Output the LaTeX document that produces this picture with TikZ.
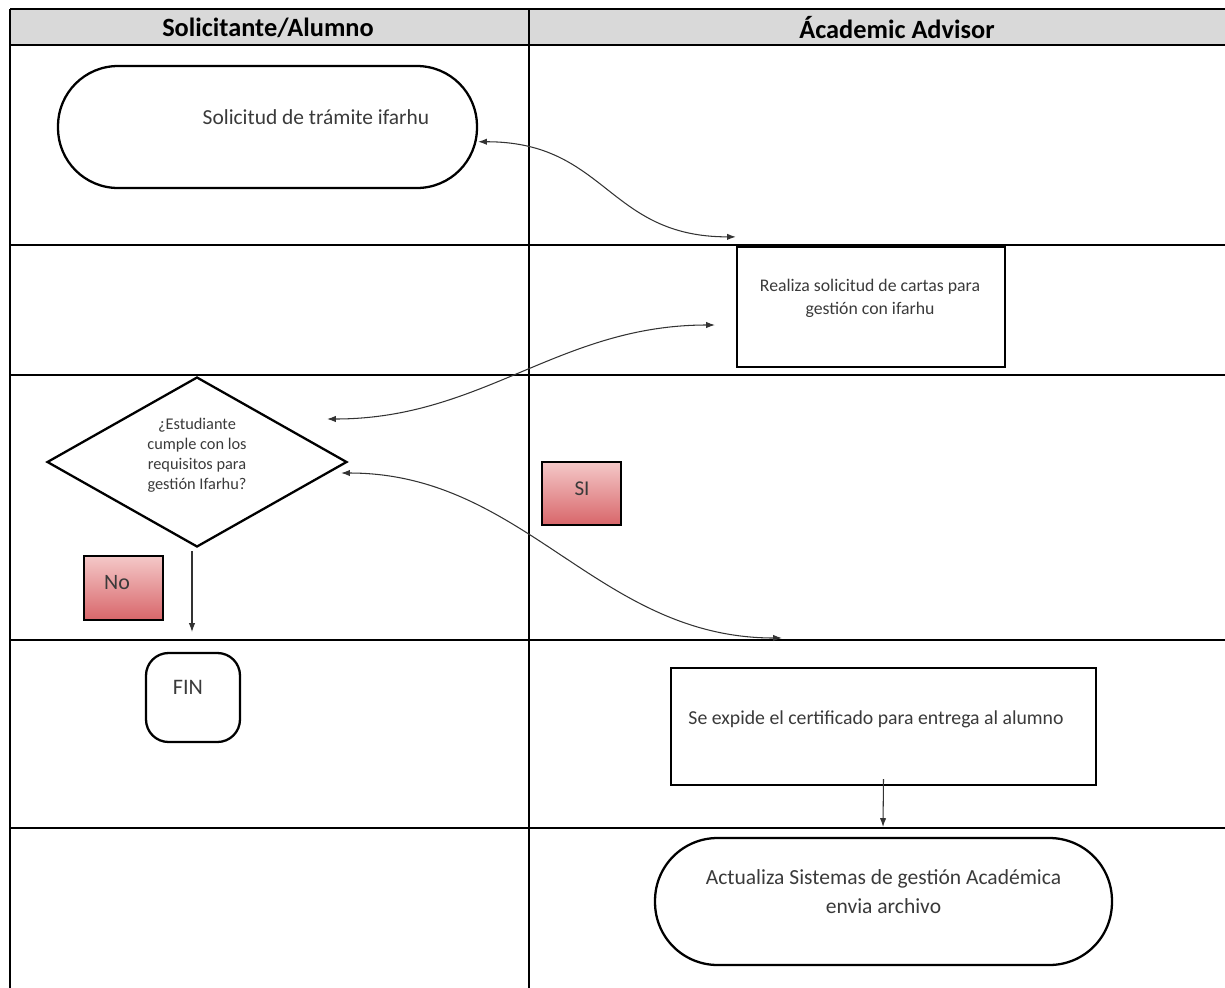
\documentclass[tikz,border=0pt]{standalone}
\usepackage{fontspec}
\setmainfont{Carlito}
\usetikzlibrary{shapes.geometric,arrows.meta}
\definecolor{griscab}{HTML}{D9D9D9}
\definecolor{rojoclaro}{HTML}{F4C8C8}
\definecolor{rojooscuro}{HTML}{D8666A}
\definecolor{tinta}{HTML}{3A3A3A}
\tikzset{
  linea/.style={line width=1.1pt},
  titulo/.style={font=\fontsize{15}{17}\selectfont\bfseries},
  caja/.style={draw, line width=1.3pt, inner sep=0pt},
  roja/.style={draw, line width=1pt, inner sep=0pt, top color=rojoclaro, bottom color=rojooscuro},
  texto/.style={text=tinta, align=center, inner sep=0pt},
  conector/.style={draw=black!80, line width=0.6pt},
  >={Latex[length=5pt,width=3.6pt]}
}
\begin{document}
\begin{tikzpicture}[x=0.02cm,y=-0.02cm]
\useasboundingbox (0,0) rectangle (1225,988);
% tabla de carriles
\fill[griscab] (10,9) rectangle (1225,45);
\foreach \y in {9,45,245,375,640,828}
  \draw[linea] (10,\y) -- (1225,\y);
\foreach \x in {10,529}
  \draw[linea] (\x,9) -- (\x,988);
\node (colalumno) at (268,28) [titulo] {Solicitante/Alumno};
\node (coladvisor) at (897,28) [titulo] {Ácademic Advisor};

% figuras
\node (solicitud) at (267.5,127) [caja, rounded corners=1.2cm, minimum width=8.38cm, minimum height=2.44cm] {};
\node (solicitudtxt) at (316,117) [texto, font=\fontsize{12.2}{14}\selectfont] {Solicitud de trámite ifarhu};

\node (cartas) at (871,307) [caja, rectangle, minimum width=5.36cm, minimum height=2.4cm] {};
\node (cartastxt) at (870,298) [texto, font=\fontsize{10.1}{13}\selectfont] {Realiza solicitud de cartas para\\gestión con ifarhu};

\node (decision) at (197,462) [caja, diamond, minimum width=6cm, minimum height=3.4cm] {};
\node (decisiontxt) at (197,455) [texto, font=\fontsize{9.3}{11.4}\selectfont] {¿Estudiante\\cumple con los\\requisitos para\\gestión Ifarhu?};

\node (no) at (123.5,588) [roja, minimum width=1.58cm, minimum height=1.28cm] {};
\node (notxt) at (117,583) [texto, font=\fontsize{12.5}{14}\selectfont] {No};
\node (si) at (581.5,493.5) [roja, minimum width=1.58cm, minimum height=1.26cm] {};
\node (sitxt) at (582,489) [texto, font=\fontsize{12}{14}\selectfont] {SI};

\node (fin) at (193,697.5) [caja, rounded corners=0.45cm, minimum width=1.88cm, minimum height=1.78cm] {};
\node (fintxt) at (188,687) [texto, font=\fontsize{12.6}{14}\selectfont] {FIN};

\node (cert) at (883.5,726.5) [caja, rectangle, minimum width=8.5cm, minimum height=2.34cm] {};
\node (certtxt) at (876,719) [texto, font=\fontsize{11.25}{13}\selectfont] {Se expide el certificado para entrega al alumno};

\node (actualiza) at (883.5,901.5) [caja, rounded corners=1.25cm, minimum width=9.14cm, minimum height=2.54cm] {};
\node (actualizatxt) at (883.5,892) [texto, font=\fontsize{12.25}{16.5}\selectfont] {Actualiza Sistemas de gestión Académica\\envia archivo};

% conectores
\coordinate (c2ini) at (327,419);
\coordinate (c2fin) at (715,325);
\coordinate (c3fin) at (782,638);
\coordinate (finarriba) at (192,632);
\coordinate (actarriba) at (883,827);
\draw 
(solicitud.-4) edge[conector, <->, out=0, in=180, looseness=1.2] ([shift={(0,-9)}]cartas.north west)
(c2ini) edge[conector, <->, out=0, in=180] (c2fin)
([shift={(-7,11)}]decision.east) edge[conector, <->, out=0, in=180] (c3fin)
([shift={(-5,3)}]decision.south) edge[conector, ->] (finarriba)
([shift={(0,-7)}]cert.south) edge[conector, ->] (actarriba)
;
\end{tikzpicture}
\end{document}
